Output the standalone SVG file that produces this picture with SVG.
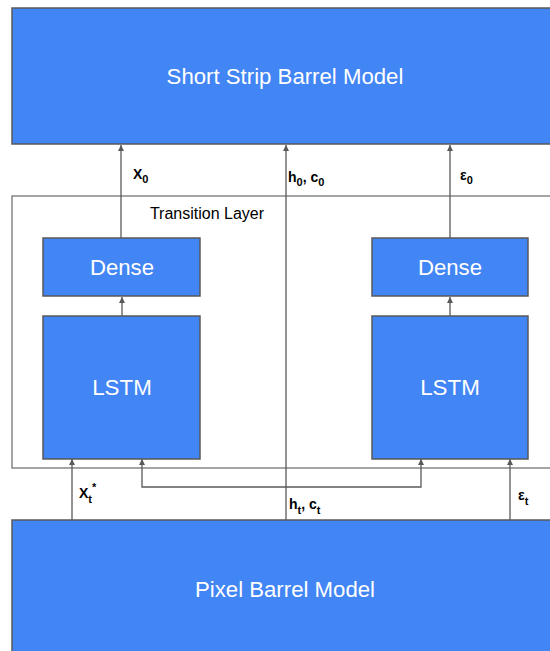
<svg xmlns="http://www.w3.org/2000/svg" width="550" height="651" viewBox="0 0 550 651">
<style>
.box{fill:#4285f4;stroke:#595959;stroke-width:1.5}
.frame{fill:none;stroke:#757575;stroke-width:1.3}
.ln{fill:none;stroke:#595959;stroke-width:1.3}
.wt{fill:#ffffff;font-family:"Liberation Sans",Arial,sans-serif;text-anchor:middle}
.lb{fill:#000000;font-family:"Liberation Sans",Arial,sans-serif;font-weight:bold;font-size:14px}
.sub{font-size:11px}
</style>
<defs>
<marker id="ah" viewBox="0 0 10 10" refX="10" refY="5" markerWidth="6" markerHeight="6" orient="auto" markerUnits="userSpaceOnUse">
<path d="M0,0 L10,5 L0,10 z" fill="#595959"/>
</marker>
</defs>
<rect width="550" height="651" fill="#ffffff"/>
<g id="transition">
<rect class="frame" x="12" y="196" width="545" height="272"/>
<text x="207" y="219" text-anchor="middle" font-family="Liberation Sans, Arial, sans-serif" font-size="16" fill="#000">Transition Layer</text>
</g>
<g id="connectors">
<line class="ln" x1="121" y1="238" x2="121" y2="145" marker-end="url(#ah)"/>
<line class="ln" x1="286" y1="520" x2="286" y2="145" marker-end="url(#ah)"/>
<line class="ln" x1="450" y1="238" x2="450" y2="145" marker-end="url(#ah)"/>
<line class="ln" x1="122" y1="316" x2="122" y2="297" marker-end="url(#ah)"/>
<line class="ln" x1="450" y1="316" x2="450" y2="297" marker-end="url(#ah)"/>
<line class="ln" x1="72" y1="520" x2="72" y2="459" marker-end="url(#ah)"/>
<polyline class="ln" points="286,487 142,487 142,459" marker-end="url(#ah)"/>
<polyline class="ln" points="286,487 421,487 421,459" marker-end="url(#ah)"/>
<line class="ln" x1="510" y1="520" x2="510" y2="459" marker-end="url(#ah)"/>
</g>
<g id="top">
<rect class="box" x="12" y="8" width="545" height="136"/>
<text class="wt" x="285" y="84" font-size="22.2">Short Strip Barrel Model</text>
</g>
<g id="dense-left">
<rect class="box" x="43" y="238" width="157" height="58"/>
<text class="wt" x="122" y="275" font-size="22.2">Dense</text>
</g>
<g id="lstm-left">
<rect class="box" x="43" y="316" width="157" height="143"/>
<text class="wt" x="122" y="395" font-size="22.4">LSTM</text>
</g>
<g id="dense-right">
<rect class="box" x="372" y="238" width="156" height="58"/>
<text class="wt" x="450" y="275" font-size="22.2">Dense</text>
</g>
<g id="lstm-right">
<rect class="box" x="372" y="316" width="156" height="143"/>
<text class="wt" x="450" y="395" font-size="22.4">LSTM</text>
</g>
<g id="bottom">
<rect class="box" x="12" y="520" width="545" height="140"/>
<text class="wt" x="285" y="597" font-size="22.2">Pixel Barrel Model</text>
</g>
<g id="labels">
<text class="lb" x="133" y="179">X<tspan class="sub" dy="4">0</tspan></text>
<text class="lb" x="288" y="182">h<tspan class="sub" dy="4">0</tspan><tspan dy="-4">, c</tspan><tspan class="sub" dy="4">0</tspan></text>
<text class="lb" x="460" y="180">ε<tspan class="sub" dy="4">0</tspan></text>
<text class="lb" x="79" y="498">X<tspan class="sub" dy="5">t</tspan><tspan class="sub" dy="-12">*</tspan></text>
<text class="lb" x="289" y="509">h<tspan class="sub" dy="5">t</tspan><tspan dy="-5">, c</tspan><tspan class="sub" dy="5">t</tspan></text>
<text class="lb" x="518" y="500">ε<tspan class="sub" dy="5">t</tspan></text>
</g>
</svg>
